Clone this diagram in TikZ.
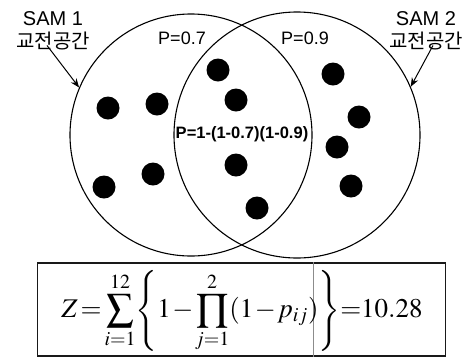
\documentclass[tikz,border=0pt]{standalone}
\usepackage{amsmath}
\usepackage{mathptmx}
\usepackage{fontspec}
\setmainfont{Liberation Sans}
\newfontfamily\kofont{Noto Sans CJK KR}
\usetikzlibrary{arrows.meta,calc}

\begin{document}
\begin{tikzpicture}[
    x=1pt, y=-1pt,
    zone/.style={draw, circle, line width=1.1pt, inner sep=0pt},
    dot/.style={fill=black},
    lbl/.style={align=center, font=\fontsize{20}{23}\selectfont, inner sep=0pt},
    plbl/.style={font=\fontsize{18}{21}\selectfont, inner sep=0pt},
    arr/.style={-{Stealth[length=9pt, width=7pt]}, line width=1pt},
    fbox/.style={draw=black!90, line width=1.6pt, minimum width=408pt, minimum height=93pt, inner sep=0pt},
]
\useasboundingbox (0,0) rectangle (476,360);

% Engagement zones
\node[zone, minimum size=242pt] (sam1) at (191,135) {};
\node[zone, minimum size=246pt] (sam2) at (297,135) {};

% Targets
\foreach \px/\py in {108/108, 157/104, 104/187, 153/174,
                     218/70, 236/100, 236/165, 257/208,
                     333/74, 359/117, 337/147, 351/186}
    \fill[dot] (\px,\py) circle (11.5);

% Zone labels
\node[lbl] (lab1) at (53,31) {SAM 1\\{\kofont 교전공간}};
\node[lbl] (lab2) at (426,31) {SAM 2\\{\kofont 교전공간}};

% Probabilities
\node[plbl] (p1) at (182,38) {P=0.7};
\node[plbl] (p2) at (305,38) {P=0.9};
\node[plbl, font=\fontsize{16.5}{19}\selectfont\bfseries] (p12) at (242,134) {P=1-(1-0.7)(1-0.9)};

% Arrows
\draw[arr] ($(lab1.south)+(-6,-5)$) -- (sam1.157);
\draw[arr] ($(lab2.south)+(7,-5)$) -- (sam2.23);

% Formula
\node[fbox] (formula) at (241.5,309.5) {};
\draw[black!45, line width=0.8pt] (formula.north -| 313,0) -- (formula.south -| 313,0);
\node[inner sep=0pt, font=\fontsize{27}{32}\selectfont] (eq) at (242,311)
    {\thickmuskip=2mu \medmuskip=1mu
     $\displaystyle Z=\sum_{i=1}^{12}\!\left\{1-\prod_{j=1}^{2}(1-p_{ij})\right\}\!=\!10.28$};
\end{tikzpicture}
\end{document}
